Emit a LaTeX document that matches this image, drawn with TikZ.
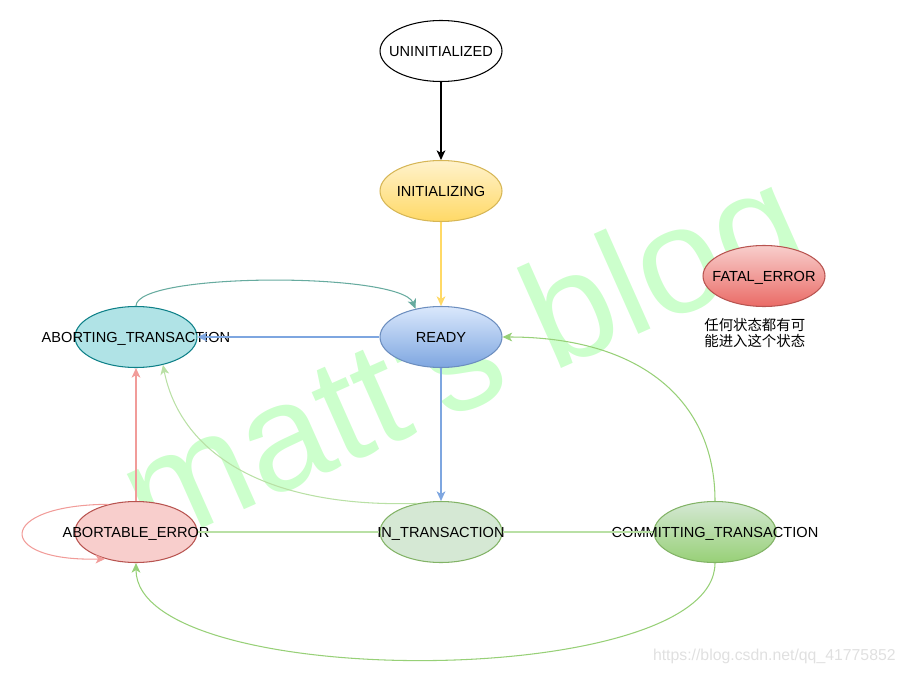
\documentclass[tikz,border=0pt]{standalone}
\usepackage{fontspec}
\setmainfont{Liberation Sans}
\newfontfamily\cjkfont{Noto Sans CJK SC}
\usetikzlibrary{shapes.geometric,arrows.meta}

\definecolor{wmgreen}{HTML}{CCFFCC}
\definecolor{urlgray}{HTML}{E0E0E0}
\definecolor{initTop}{HTML}{FFF2CC}
\definecolor{initBot}{HTML}{FFD966}
\definecolor{initLine}{HTML}{D6B656}
\definecolor{readyTop}{HTML}{DAE8FC}
\definecolor{readyBot}{HTML}{7EA6E0}
\definecolor{readyLine}{HTML}{6C8EBF}
\definecolor{abortFill}{HTML}{B0E3E6}
\definecolor{abortLine}{HTML}{0E8088}
\definecolor{fatalTop}{HTML}{F8CECC}
\definecolor{fatalBot}{HTML}{EA6B66}
\definecolor{errLine}{HTML}{B85450}
\definecolor{inFill}{HTML}{D5E8D4}
\definecolor{inLine}{HTML}{82B366}
\definecolor{commitBot}{HTML}{97D077}
\definecolor{yellowEdge}{HTML}{FFD966}
\definecolor{blueEdge}{HTML}{7EA6E0}
\definecolor{tealEdge}{HTML}{67AB9F}
\definecolor{greenEdge}{HTML}{97D077}
\definecolor{paleGreen}{HTML}{B9E0A5}
\definecolor{redEdge}{HTML}{F19C99}

\newcommand{\stext}[1]{\makebox[0pt]{#1}}

\begin{document}
\begin{tikzpicture}[x=0.02cm,y=-0.02cm,
    state/.style={ellipse,draw,line width=0.6pt,minimum width=2.44cm,minimum height=1.22cm,
      inner sep=0pt,text height=6pt,text depth=0pt,font=\fontsize{8.3}{10}\selectfont},
    arr/.style={line width=0.6pt,-{Stealth[length=5.5pt,width=5pt,inset=1.5pt]}},
    ln/.style={line width=0.6pt}]
     \useasboundingbox (0,0) rectangle (905,672);
     % watermark
     \node[text=wmgreen,rotate=24,anchor=base west,inner sep=0pt,
       font=\fontsize{86}{86}\selectfont] (wm) at (150,552) {matt\textquotesingle s blog};
     \node[text=urlgray,anchor=base east,inner sep=0pt,font=\fontsize{9}{10}\selectfont]
       (url) at (896,660) {https://blog.csdn.net/qq\_41775852};
     % states
     \node[state,fill=white] (uninit) at (441,51) {\stext{UNINITIALIZED}};
     \node[state,top color=initTop,bottom color=initBot,draw=initLine] (initing) at (441,191) {\stext{INITIALIZING}};
     \node[state,top color=readyTop,bottom color=readyBot,draw=readyLine] (ready) at (441,337) {\stext{READY}};
     \node[state,fill=abortFill,draw=abortLine] (aborting) at (136,337) {\stext{ABORTING\_TRANSACTION}};
     \node[state,top color=fatalTop,bottom color=fatalBot,draw=errLine] (fatal) at (764,276) {\stext{FATAL\_ERROR}};
     \node[anchor=north west,align=left,inner sep=0pt,font=\cjkfont\fontsize{8.2}{9.1}\selectfont]
       (note) at (704,318) {任何状态都有可\\能进入这个状态};
     \node[state,fill=fatalTop,draw=errLine] (ablerr) at (136,532) {\stext{ABORTABLE\_ERROR}};
     \node[state,fill=inFill,draw=inLine] (intx) at (441,532) {\stext{IN\_TRANSACTION}};
     \node[state,top color=inFill,bottom color=commitBot,draw=inLine] (commit) at (715,532) {\stext{COMMITTING\_TRANSACTION}};
     % transitions
     \draw[arr] (uninit) -- (initing);
     \draw[arr,draw=yellowEdge] (initing) -- (ready);
     \draw[arr,draw=blueEdge] (ready) -- (aborting);
     \draw[arr,draw=blueEdge] (ready) -- (intx);
     \draw[arr,draw=tealEdge] (aborting.north) .. controls (136,272) and (400,272) .. (ready.132);
     \draw[arr,draw=paleGreen] (intx.130) .. controls (260,508) and (180,450) .. (aborting.-46);
     \draw[arr,draw=redEdge] (ablerr) -- (aborting);
     \draw[arr,draw=redEdge] (ablerr.135) .. controls (-5,505) and (-5,562) .. (ablerr.221);
     \draw[ln,draw=paleGreen] (ablerr) -- (intx);
     \draw[ln,draw=paleGreen] (intx) -- (commit);
     \draw[arr,draw=greenEdge] (commit.north) .. controls (715,400) and (640,337) .. (ready.east);
     \draw[arr,draw=greenEdge] (commit.south) .. controls (715,692) and (136,692) .. (ablerr.south);
\end{tikzpicture}
\end{document}
